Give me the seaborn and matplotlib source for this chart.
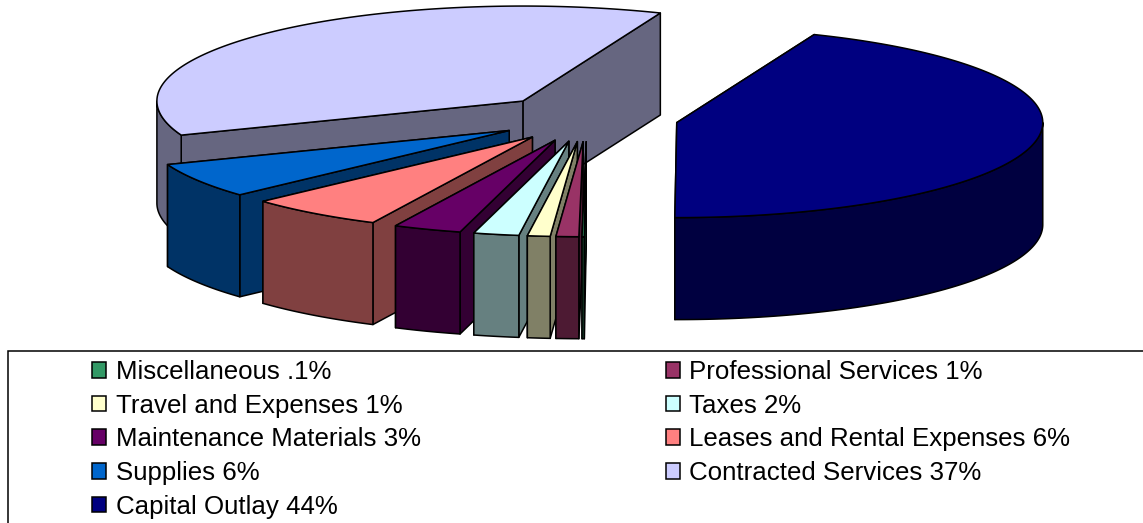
import numpy as np
import matplotlib
matplotlib.use("Agg")
import matplotlib.pyplot as plt
from matplotlib.patches import Polygon, Rectangle
import seaborn as sns

# Budget shares, in the order the slices run clockwise from the 180 degree mark
categories = ["Miscellaneous", "Professional Services", "Travel and Expenses", "Taxes",
              "Maintenance Materials", "Leases and Rental Expenses", "Supplies",
              "Contracted Services", "Capital Outlay"]
shares = [0.1, 1, 1, 2, 3, 6, 6, 37, 44]
share_labels = [".1%", "1%", "1%", "2%", "3%", "6%", "6%", "37%", "44%"]
top_colors = ["#339966", "#993366", "#FFFFCC", "#CCFFFF", "#660066",
              "#FF8080", "#0066CC", "#CCCCFF", "#000080"]
side_colors = ["#1A4D33", "#4D1A33", "#808066", "#668080", "#330033",
               "#804040", "#003366", "#666680", "#000040"]

# Projected pie geometry, in figure pixels
CENTER_X, CENTER_Y = 587, 118
RADIUS_X, RADIUS_Y = 366, 95
DEPTH = 102
EXPLODE = 0.25
FIRST_SLICE_START = 180.3

sns.set_theme(style="white")
plt.rcParams["font.family"] = ["Liberation Sans", "DejaVu Sans"]

fig = plt.figure(figsize=(11.43, 5.23), dpi=100)
ax = fig.add_axes([0, 0, 1, 1])
ax.set_xlim(0, 1143)
ax.set_ylim(523, 0)
ax.axis("off")


def rim(theta, cx, cy):
    """Rim point for an angle measured clockwise from the back of the pie."""
    t = np.radians(theta)
    return np.column_stack([cx + RADIUS_X * np.sin(t), cy - RADIUS_Y * np.cos(t)])


def face(points, color, order):
    ax.add_patch(Polygon(points, closed=True, facecolor=color, edgecolor="black",
                         linewidth=1.1, joinstyle="round", zorder=order))


sweeps = np.array(shares) / np.sum(shares) * 360
starts = FIRST_SLICE_START + np.concatenate([[0], np.cumsum(sweeps)[:-1]])

# Left-hand slices are painted first so the nearer ones overlap them
paint_order = list(range(len(shares) - 2, -1, -1)) + [len(shares) - 1]
for rank, i in enumerate(paint_order):
    a0, a1 = starts[i], starts[i] + sweeps[i]
    if a0 >= 360:
        a0, a1 = a0 - 360, a1 - 360
    mid = (a0 + a1) / 2
    apex = rim(np.array([mid]), CENTER_X, CENTER_Y)
    apex = np.array([CENTER_X + EXPLODE * (apex[0, 0] - CENTER_X),
                     CENTER_Y + EXPLODE * (apex[0, 1] - CENTER_Y)])
    cx, cy = apex
    arc = rim(np.linspace(a0, a1, max(int(sweeps[i] * 2), 4)), cx, cy)
    drop = np.array([0, DEPTH])
    z = 2 + rank * 4

    # Cut faces running from the apex to each end of the arc
    for end in (arc[-1], arc[0]):
        face([apex, end, end + drop, apex + drop], side_colors[i], z)

    # Outer wall: only the front half of the rim faces the viewer
    lo, hi = max(a0, 90), min(a1, 270)
    if hi > lo:
        wall = rim(np.linspace(lo, hi, max(int((hi - lo) * 2), 4)), cx, cy)
        face(np.vstack([wall, wall[::-1] + drop]), side_colors[i], z + 1)

    # Top of the slice
    face(np.vstack([[apex], arc]), top_colors[i], z + 2)

# Legend panel; its right and bottom edges run past the figure
ax.add_patch(Rectangle((7.5, 350.5), 1300, 300, facecolor="white", edgecolor="black",
                       linewidth=1.1, zorder=60))

# Two columns are filled top to bottom, so odd entries go first to read across rows
order = list(range(0, len(categories), 2)) + list(range(1, len(categories), 2))
handles = [Rectangle((0, 0), 1, 1, facecolor=top_colors[i], edgecolor="black", linewidth=1.1)
           for i in order]
labels = [f"{categories[i]} {share_labels[i]}" for i in order]
legend = ax.legend(handles, labels, ncols=2, loc="upper left",
                   bbox_to_anchor=(92 / 1143, 1 - 360 / 523), frameon=False,
                   fontsize=18.6, handlelength=0.56, handleheight=0.56, handletextpad=0.35,
                   labelspacing=0.375, columnspacing=9.5, borderpad=0, borderaxespad=0,
                   labelcolor="black")
legend.set_zorder(61)

fig.savefig("out.png", dpi=100, facecolor="white")
